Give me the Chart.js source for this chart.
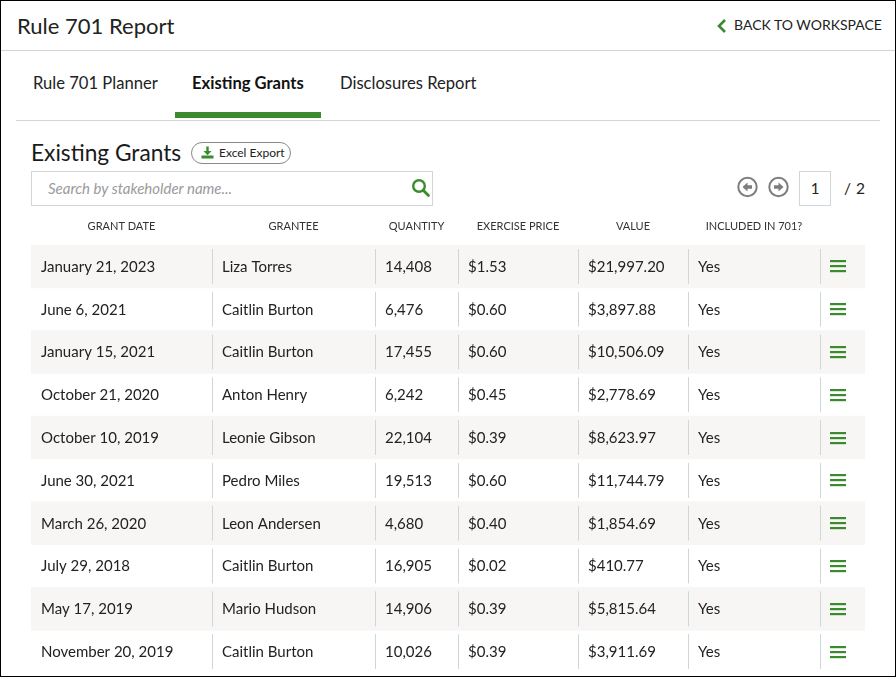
<!DOCTYPE html>
<html>
<head>
<meta charset="utf-8">
<script src="https://cdn.jsdelivr.net/npm/chart.js@4.4.1/dist/chart.umd.min.js"></script>
<style>
  html, body { margin: 0; padding: 0; background: #fff; }
  body { width: 896px; height: 677px; position: relative; overflow: hidden; font-family: "Lato", sans-serif; color: #222; }
  .frame { position: absolute; left: 0; top: 0; width: 896px; height: 677px; box-sizing: border-box; border: 1px solid #000; }
  .abs { position: absolute; white-space: nowrap; }
  .rule { position: absolute; height: 1px; background: #d0d7d9; }
</style>
</head>
<body>
<div class="frame"></div>

<!-- page header -->
<div class="abs" style="left:17px; top:11px; font-size:22px; line-height:30px;">Rule 701 Report</div>
<svg class="abs" style="left:715px; top:18px;" width="14" height="16" viewBox="0 0 14 16">
  <polyline points="10,2 4,8 10,14" fill="none" stroke="#3a8a2e" stroke-width="2.6"/>
</svg>
<div class="abs" style="left:734px; top:15px; font-size:14px; line-height:20px;">BACK TO WORKSPACE</div>
<div class="rule" style="left:1px; top:50px; width:894px;"></div>

<!-- tabs -->
<div class="abs" style="left:33px; top:72px; font-size:16.6px; line-height:22px;">Rule 701 Planner</div>
<div class="abs" style="left:192px; top:72px; font-size:16.6px; line-height:22px; font-weight:bold; color:#111;">Existing Grants</div>
<div class="abs" style="left:340px; top:72px; font-size:16.6px; line-height:22px;">Disclosures Report</div>
<div class="abs" style="left:175px; top:112px; width:146px; height:6px; background:#3a8a2e;"></div>
<div class="rule" style="left:16px; top:120px; width:864px;"></div>

<!-- section title + export -->
<div class="abs" style="left:31px; top:138px; font-size:22.7px; line-height:30px; color:#1a1a1a;">Existing Grants</div>
<div class="abs" style="left:191px; top:142px; width:100px; height:22px; box-sizing:border-box; border:1px solid #8a8a8a; border-radius:11px;"></div>
<svg class="abs" style="left:201px; top:146px;" width="13" height="13" viewBox="0 0 13 13">
  <rect x="5.3" y="0.5" width="2.4" height="5" fill="#3a8a2e"/>
  <polygon points="2.5,5 10.5,5 6.5,9.2" fill="#3a8a2e"/>
  <rect x="0.5" y="9.5" width="12" height="3" fill="#3a8a2e"/>
</svg>
<div class="abs" style="left:219px; top:145px; font-size:12px; line-height:16px; color:#222;">Excel Export</div>

<!-- search -->
<div class="abs" style="left:31px; top:171px; width:402px; height:35px; box-sizing:border-box; border:1px solid #d0d7d9;"></div>
<div class="abs" style="left:48px; top:178px; font-size:15px; line-height:20px; font-style:italic; color:#9a9a9a;">Search by stakeholder name...</div>
<svg class="abs" style="left:411px; top:178px;" width="20" height="20" viewBox="0 0 20 20">
  <circle cx="8" cy="8" r="5.8" fill="none" stroke="#3a8a2e" stroke-width="2.4"/>
  <line x1="12.2" y1="12.2" x2="17.5" y2="17.5" stroke="#3a8a2e" stroke-width="2.8" stroke-linecap="round"/>
</svg>

<!-- pagination -->
<svg class="abs" style="left:736px; top:176px;" width="54" height="22" viewBox="0 0 54 22">
  <circle cx="11.5" cy="11" r="9.2" fill="none" stroke="#7d7d7d" stroke-width="2"/>
  <polygon points="6.5,11 11.5,6.5 11.5,9.3 16,9.3 16,12.7 11.5,12.7 11.5,15.5" fill="#7d7d7d"/>
  <circle cx="42.5" cy="11" r="9.2" fill="none" stroke="#7d7d7d" stroke-width="2"/>
  <polygon points="47.5,11 42.5,6.5 42.5,9.3 38,9.3 38,12.7 42.5,12.7 42.5,15.5" fill="#7d7d7d"/>
</svg>
<div class="abs" style="left:799px; top:171px; width:32px; height:35px; box-sizing:border-box; border:1px solid #d0d7d9;"></div>
<div class="abs" style="left:799px; top:178px; width:32px; text-align:center; font-size:15px; line-height:20px;">1</div>
<div class="abs" style="left:844px; top:178px; font-size:15.5px; line-height:20px;">/</div>
<div class="abs" style="left:856px; top:178px; font-size:15.5px; line-height:20px;">2</div>

<!-- grants table -->
<div class="abs" style="left:31px; top:212px; width:834px; height:461px;">
  <canvas id="grants"></canvas>
</div>

<script>
const columnHeaders = ["GRANT DATE", "GRANTEE", "QUANTITY", "EXERCISE PRICE", "VALUE", "INCLUDED IN 701?"];
const grantDates = [
  "January 21, 2023", "June 6, 2021", "January 15, 2021", "October 21, 2020", "October 10, 2019",
  "June 30, 2021", "March 26, 2020", "July 29, 2018", "May 17, 2019", "November 20, 2019"
];
const grantees = [
  "Liza Torres", "Caitlin Burton", "Caitlin Burton", "Anton Henry", "Leonie Gibson",
  "Pedro Miles", "Leon Andersen", "Caitlin Burton", "Mario Hudson", "Caitlin Burton"
];
const quantities = [14408, 6476, 17455, 6242, 22104, 19513, 4680, 16905, 14906, 10026];
const exercisePrices = [1.53, 0.60, 0.60, 0.45, 0.39, 0.60, 0.40, 0.02, 0.39, 0.39];
const grantValues = [21997.20, 3897.88, 10506.09, 2778.69, 8623.97, 11744.79, 1854.69, 410.77, 5815.64, 3911.69];
const included701 = ["Yes", "Yes", "Yes", "Yes", "Yes", "Yes", "Yes", "Yes", "Yes", "Yes"];

// layout: column edges in table units (same as px here)
const colEdges = [0, 181, 344, 427, 547, 657, 789, 834];
const tableWidth = colEdges[colEdges.length - 1];
const green = "#3a8a2e";
const stripe = "#f7f6f4";
const sepColor = "#cfd6d8";
const cellFont = '15px "Lato", sans-serif';

const money = (v, d) => "$" + v.toLocaleString("en-US", { minimumFractionDigits: d, maximumFractionDigits: d });

const cellText = (i) => [
  grantDates[i],
  grantees[i],
  quantities[i].toLocaleString("en-US"),
  money(exercisePrices[i], 2),
  money(grantValues[i], 2),
  included701[i]
];

const headerCenters = columnHeaders.map((_, c) => (colEdges[c] + colEdges[c + 1]) / 2);

const tableCells = {
  id: "tableCells",
  afterDatasetsDraw(chart) {
    const { ctx, scales: { x, y } } = chart;
    const band = y.height / grantDates.length;
    ctx.save();
    grantDates.forEach((_, i) => {
      const yc = y.getPixelForValue(i);
      // column separators
      ctx.strokeStyle = sepColor;
      ctx.lineWidth = 1;
      for (let c = 1; c < colEdges.length - 1; c++) {
        const px = Math.round(x.getPixelForValue(colEdges[c])) + 0.5;
        ctx.beginPath();
        ctx.moveTo(px, yc - band / 2 + 4);
        ctx.lineTo(px, yc + band / 2 - 4);
        ctx.stroke();
      }
      // cell text
      ctx.fillStyle = "#222";
      ctx.font = cellFont;
      ctx.textBaseline = "middle";
      ctx.textAlign = "left";
      cellText(i).forEach((t, c) => {
        ctx.fillText(t, x.getPixelForValue(colEdges[c]) + 10, yc + 0.5);
      });
      // row menu icon
      const mx = Math.round(x.getPixelForValue(colEdges[6])) + 10;
      ctx.fillStyle = green;
      [-5, 0, 5].forEach(o => ctx.fillRect(mx, Math.round(yc + o) - 1, 16, 2.2));
    });
    ctx.restore();
  }
};

new Chart(document.getElementById("grants"), {
  type: "bar",
  data: {
    labels: grantDates,
    datasets: [{
      label: "rows",
      data: grantDates.map((_, i) => (i % 2 === 0 ? [0, tableWidth] : null)),
      backgroundColor: stripe,
      borderWidth: 0,
      borderSkipped: false,
      barPercentage: 1,
      categoryPercentage: 1
    }]
  },
  options: {
    indexAxis: "y",
    responsive: true,
    maintainAspectRatio: false,
    animation: false,
    layout: { padding: 0 },
    plugins: { legend: { display: false }, tooltip: { enabled: false } },
    scales: {
      x: {
        type: "linear",
        position: "top",
        min: 0,
        max: tableWidth,
        grid: { display: false, drawTicks: false },
        border: { display: false },
        afterBuildTicks: (scale) => { scale.ticks = headerCenters.map(v => ({ value: v })); },
        afterFit: (scale) => { scale.height = 33; },
        ticks: {
          autoSkip: false,
          maxRotation: 0,
          padding: 12,
          color: "#333",
          font: { family: "Lato", size: 11 },
          callback: (v, i) => columnHeaders[i]
        }
      },
      y: {
        type: "category",
        display: false,
        offset: true
      }
    }
  },
  plugins: [tableCells]
});
</script>
</body>
</html>
